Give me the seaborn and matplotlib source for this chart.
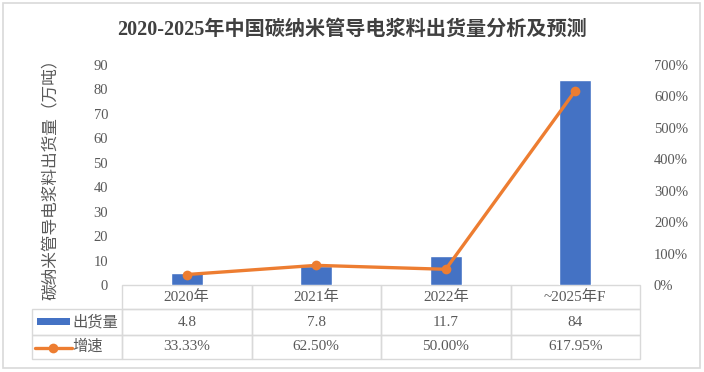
import numpy as np
import matplotlib
matplotlib.use('Agg')
import matplotlib.pyplot as plt
from matplotlib.table import Table
from matplotlib.patches import Rectangle
from matplotlib.lines import Line2D
import seaborn as sns

# data
categories = ['2020年', '2021年', '2022年', '~2025年F']
shipments = [4.8, 7.8, 11.7, 84]
growth = [33.33, 62.50, 50.00, 617.95]
shipment_labels = ['4.8', '7.8', '11.7', '84']
growth_labels = ['33.33%', '62.50%', '50.00%', '617.95%']
left_ticks = list(range(0, 91, 10))
right_ticks = list(range(0, 701, 100))

BLUE = '#4472C4'
ORANGE = '#ED7D31'
TXT = '#595959'
GRID = '#D9D9D9'

sns.set_theme(style='white')
plt.rcParams['font.family'] = ['Liberation Serif', 'Noto Sans CJK SC']
plt.rcParams['axes.unicode_minus'] = False

fig = plt.figure(figsize=(7.04, 3.72), dpi=100)
W, H = 704, 372
ax = fig.add_axes([122 / W, (H - 285) / H, 518 / W, 220 / H])

# bars
sns.barplot(x=categories, y=shipments, ax=ax, color=BLUE, width=0.25, saturation=1)
ax.set_xlim(-0.5, len(categories) - 0.5)
ax.set_ylim(0, 90)
ax.set_yticks(left_ticks)
ax.set_xticks([])
ax.set_xlabel('')
ax.tick_params(axis='y', length=0, pad=10, labelsize=10.5, labelcolor=TXT)
ax.set_ylabel('碳纳米管导电浆料出货量（万吨）', fontsize=12, color=TXT)
ax.yaxis.set_label_coords(-0.122, 0.5)
for s in ax.spines.values():
    s.set_visible(False)

# growth line on secondary axis
ax2 = ax.twinx()
sns.lineplot(x=np.arange(len(categories)), y=growth, ax=ax2, color=ORANGE,
             linewidth=2.4, marker='o', markersize=7, markeredgewidth=0)
ax2.set_ylim(0, 700)
ax2.set_yticks(right_ticks)
ax2.set_yticklabels([f'{t}%' for t in right_ticks])
ax2.tick_params(axis='y', length=0, pad=10, labelsize=10.5, labelcolor=TXT)
for s in ax2.spines.values():
    s.set_visible(False)
ax2.set_xlim(-0.5, len(categories) - 0.5)

# data table under the plot
lab_w = 90 / 518
col_w = 0.25
row_h = [24 / 220, 26 / 220, 24 / 220]
tbl_h = sum(row_h)
tbl = Table(ax, bbox=[-lab_w, -tbl_h, 1 + lab_w, tbl_h])
rows = [[''] + categories, ['出货量'] + shipment_labels, ['增速'] + growth_labels]
for r, row in enumerate(rows):
    for c, txt in enumerate(row):
        w = lab_w if c == 0 else col_w
        cell = tbl.add_cell(r, c, w, row_h[r], text=txt,
                            loc='left' if c == 0 else 'center',
                            edgecolor=GRID, facecolor='none')
        cell.set_linewidth(1)
        cell.get_text().set_fontsize(11)
        cell.get_text().set_color(TXT)
        if c == 0:
            cell.PAD = 0.45
        if r == 0 and c == 0:
            cell.visible_edges = ''
tbl.auto_set_font_size(False)
ax.add_table(tbl)

# legend keys inside the table
ax.add_patch(Rectangle((-0.164, -0.184), 0.064, 0.032, transform=ax.transAxes,
                       facecolor=BLUE, edgecolor='none', clip_on=False))
ax.add_line(Line2D([-0.168, -0.097], [-0.285, -0.285], transform=ax.transAxes,
                   color=ORANGE, lw=2.4, clip_on=False))
ax.add_line(Line2D([-0.133], [-0.285], transform=ax.transAxes, color=ORANGE,
                   marker='o', markersize=7, markeredgewidth=0, clip_on=False))

# title
fig.text(0.5, 1 - 30 / H, '2020-2025年中国碳纳米管导电浆料出货量分析及预测',
         ha='center', va='center', fontsize=14.5, fontweight='bold', color='#404040')

# outer frame
fig.add_artist(Rectangle((3 / W, 4 / H), 697 / W, 365 / H, transform=fig.transFigure,
                         facecolor='none', edgecolor=GRID, lw=1.2))

fig.savefig('out.png', dpi=100)
